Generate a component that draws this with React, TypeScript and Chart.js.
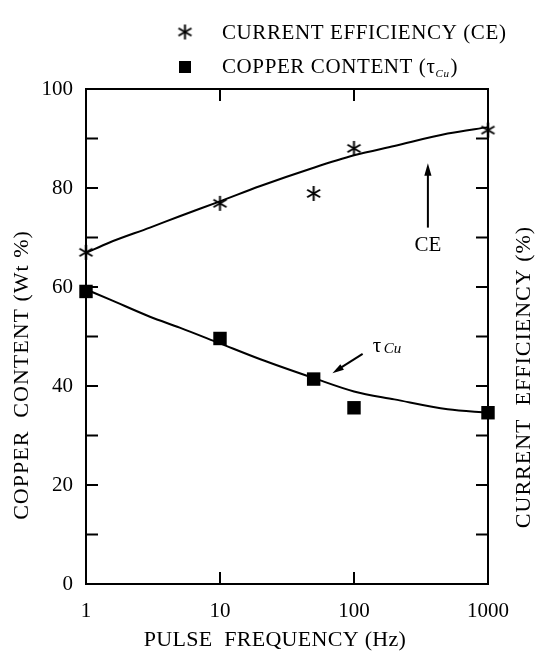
import React, { useEffect, useRef } from "react";
import { Chart, registerables } from "chart.js";

Chart.register(...registerables);

// Measured points
const frequencies = [1, 10, 50, 100, 1000];
const currentEfficiency = [67, 76.9, 78.9, 88.0, 91.7];
const copperContent = [59.1, 49.6, 41.4, 35.6, 34.6];

// Smoothed trend curves
const fitFrequencies = [1, 1.5, 3, 5, 10, 20, 50, 100, 200, 500, 1000];
const ceFit = [66.9, 69, 72, 74.3, 77.3, 80.4, 84.1, 86.6, 88.5, 91.0, 92.3];
const cuFit = [59.5, 57.5, 54.0, 51.8, 48.6, 45.4, 41.6, 38.9, 37.3, 35.3, 34.6];

// Axis ticks
const xTickValues = [1, 10, 100, 1000];
const yTickMarks = [10, 20, 30, 40, 50, 60, 70, 80, 90];

const FONT_FAMILY = "'Liberation Serif', 'Times New Roman', serif";
const FONT_SIZE = 21;

function makeAsterisk(size: number, lineWidth: number): HTMLCanvasElement {
  const c = document.createElement("canvas");
  c.width = size;
  c.height = size;
  const g = c.getContext("2d")!;
  const r = size / 2 - 1;
  g.strokeStyle = "#000";
  g.lineWidth = lineWidth;
  g.lineCap = "butt";
  g.translate(size / 2, size / 2);
  for (let k = 0; k < 3; k++) {
    const a = Math.PI / 2 + (k * Math.PI) / 3;
    g.beginPath();
    g.moveTo(Math.cos(a) * r, Math.sin(a) * r);
    g.lineTo(-Math.cos(a) * r, -Math.sin(a) * r);
    g.stroke();
  }
  return c;
}

function drawArrow(
  ctx: CanvasRenderingContext2D,
  x1: number,
  y1: number,
  x2: number,
  y2: number,
  head: number
) {
  const ang = Math.atan2(y2 - y1, x2 - x1);
  ctx.beginPath();
  ctx.moveTo(x1, y1);
  ctx.lineTo(x2 - Math.cos(ang) * head * 0.8, y2 - Math.sin(ang) * head * 0.8);
  ctx.stroke();
  ctx.beginPath();
  ctx.moveTo(x2, y2);
  ctx.lineTo(
    x2 - Math.cos(ang - 0.28) * head,
    y2 - Math.sin(ang - 0.28) * head
  );
  ctx.lineTo(
    x2 - Math.cos(ang + 0.28) * head,
    y2 - Math.sin(ang + 0.28) * head
  );
  ctx.closePath();
  ctx.fill();
}

function setSpacing(ctx: any, px: number) {
  if ("letterSpacing" in ctx) ctx.letterSpacing = `${px}px`;
}

const decorPlugin = {
  id: "decor",
  afterDraw(chart: any) {
    const { ctx, chartArea } = chart;
    const x = chart.scales.x;
    const y = chart.scales.y;
    const { left, right, top, bottom } = chartArea;
    ctx.save();
    ctx.strokeStyle = "#000";
    ctx.fillStyle = "#000";

    // frame
    ctx.lineWidth = 2;
    ctx.strokeRect(left, top, right - left, bottom - top);

    // inward tick marks
    const tl = 12;
    ctx.beginPath();
    xTickValues.slice(1, -1).forEach((v) => {
      const px = x.getPixelForValue(v);
      ctx.moveTo(px, bottom);
      ctx.lineTo(px, bottom - tl);
      ctx.moveTo(px, top);
      ctx.lineTo(px, top + tl);
    });
    yTickMarks.forEach((v) => {
      const py = y.getPixelForValue(v);
      ctx.moveTo(left, py);
      ctx.lineTo(left + tl, py);
      ctx.moveTo(right, py);
      ctx.lineTo(right - tl, py);
    });
    ctx.stroke();

    const font = `${FONT_SIZE}px ${FONT_FAMILY}`;
    const titleFont = `22px ${FONT_FAMILY}`;
    ctx.textBaseline = "middle";

    // x axis title
    ctx.font = titleFont;
    setSpacing(ctx, 0.3);
    ctx.textAlign = "center";
    ctx.fillText("PULSE  FREQUENCY (Hz)", 275, 640);

    // left axis title
    setSpacing(ctx, 1);
    ctx.save();
    ctx.translate(22, 375);
    ctx.rotate(-Math.PI / 2);
    ctx.fillText("COPPER  CONTENT (Wt %)", 0, 0);
    ctx.restore();

    // right axis title
    ctx.save();
    ctx.translate(524, 377);
    ctx.rotate(-Math.PI / 2);
    ctx.fillText("CURRENT  EFFICIENCY (%)", 0, 0);
    ctx.restore();

    // legend
    ctx.font = font;
    setSpacing(ctx, 0.6);
    ctx.textAlign = "left";
    const star = makeAsterisk(17, 2);
    ctx.drawImage(star, 185 - 8.5, 32 - 8.5);
    ctx.fillText("CURRENT EFFICIENCY (CE)", 222, 33);
    ctx.fillRect(179, 61, 12, 12);
    const t1 = "COPPER CONTENT (";
    ctx.fillText(t1, 222, 67);
    let cx = 222 + ctx.measureText(t1).width;
    ctx.fillText("\u03C4", cx, 67);
    cx += ctx.measureText("\u03C4").width;
    ctx.font = `italic 11px ${FONT_FAMILY}`;
    ctx.fillText("Cu", cx, 74);
    cx += ctx.measureText("Cu").width + 1;
    ctx.font = font;
    ctx.fillText(")", cx, 67);
    setSpacing(ctx, 0);

    // CE annotation
    const ceX = x.getPixelForValue(356);
    ctx.lineWidth = 2;
    drawArrow(ctx, ceX, y.getPixelForValue(72), ceX, y.getPixelForValue(85), 13);
    ctx.textAlign = "center";
    ctx.fillText("CE", ceX, y.getPixelForValue(68.3));

    // copper content annotation
    drawArrow(
      ctx,
      x.getPixelForValue(116),
      y.getPixelForValue(46.5),
      x.getPixelForValue(69),
      y.getPixelForValue(42.6),
      12
    );
    ctx.textAlign = "left";
    const tx = x.getPixelForValue(138);
    const ty = y.getPixelForValue(48);
    ctx.fillText("\u03C4", tx, ty);
    ctx.font = `italic 15px ${FONT_FAMILY}`;
    ctx.fillText("Cu", tx + 11, ty + 3);

    ctx.restore();
  },
};

export default function App() {
  const canvasRef = useRef<HTMLCanvasElement | null>(null);

  useEffect(() => {
    const canvas = canvasRef.current;
    if (!canvas) return;
    const star = makeAsterisk(17, 2);
    const tickFont = { family: FONT_FAMILY, size: FONT_SIZE };

    const chart = new Chart(canvas, {
      type: "scatter",
      data: {
        datasets: [
          {
            label: "CE fit",
            data: fitFrequencies.map((f, i) => ({ x: f, y: ceFit[i] })),
            showLine: true,
            borderColor: "#000",
            borderWidth: 2,
            pointRadius: 0,
            tension: 0.4,
            cubicInterpolationMode: "monotone",
            yAxisID: "y2",
          },
          {
            label: "Cu fit",
            data: fitFrequencies.map((f, i) => ({ x: f, y: cuFit[i] })),
            showLine: true,
            borderColor: "#000",
            borderWidth: 2,
            pointRadius: 0,
            tension: 0.4,
            cubicInterpolationMode: "monotone",
            yAxisID: "y",
          },
          {
            label: "CURRENT EFFICIENCY (CE)",
            data: frequencies.map((f, i) => ({ x: f, y: currentEfficiency[i] })),
            pointStyle: star,
            pointRadius: 8,
            yAxisID: "y2",
          },
          {
            label: "COPPER CONTENT",
            data: frequencies.map((f, i) => ({ x: f, y: copperContent[i] })),
            pointStyle: "rect",
            pointRadius: 9.5,
            backgroundColor: "#000",
            borderColor: "#000",
            borderWidth: 0,
            yAxisID: "y",
          },
        ],
      },
      options: {
        responsive: false,
        animation: false,
        clip: false,
        layout: { padding: { top: 89, left: 0, right: 0, bottom: 0 } },
        plugins: {
          legend: { display: false },
          tooltip: { enabled: false },
        },
        scales: {
          x: {
            type: "logarithmic",
            min: 1,
            max: 1000,
            afterBuildTicks: (scale: any) => {
              scale.ticks = xTickValues.map((v) => ({ value: v }));
            },
            afterFit: (scale: any) => {
              scale.height = 70;
            },
            grid: { display: false, drawTicks: false },
            border: { display: false },
            ticks: {
              color: "#000",
              font: tickFont,
              padding: 15,
              maxRotation: 0,
              autoSkip: false,
              callback: (v: any) => String(v),
            },
          },
          y: {
            min: 0,
            max: 100,
            afterFit: (scale: any) => {
              scale.width = 86;
            },
            grid: { display: false, drawTicks: false },
            border: { display: false },
            ticks: {
              stepSize: 20,
              color: "#000",
              font: tickFont,
              padding: 13,
            },
          },
          y2: {
            position: "right",
            min: 0,
            max: 100,
            afterFit: (scale: any) => {
              scale.width = 53;
            },
            grid: { display: false, drawTicks: false },
            border: { display: false },
            ticks: { display: false },
          },
        },
      },
      plugins: [decorPlugin],
    });
    return () => chart.destroy();
  }, []);

  return (
    <div style={{ position: "absolute", left: 0, top: 0, width: 541, height: 654, background: "#fff" }}>
      <canvas ref={canvasRef} width={541} height={654} />
    </div>
  );
}
